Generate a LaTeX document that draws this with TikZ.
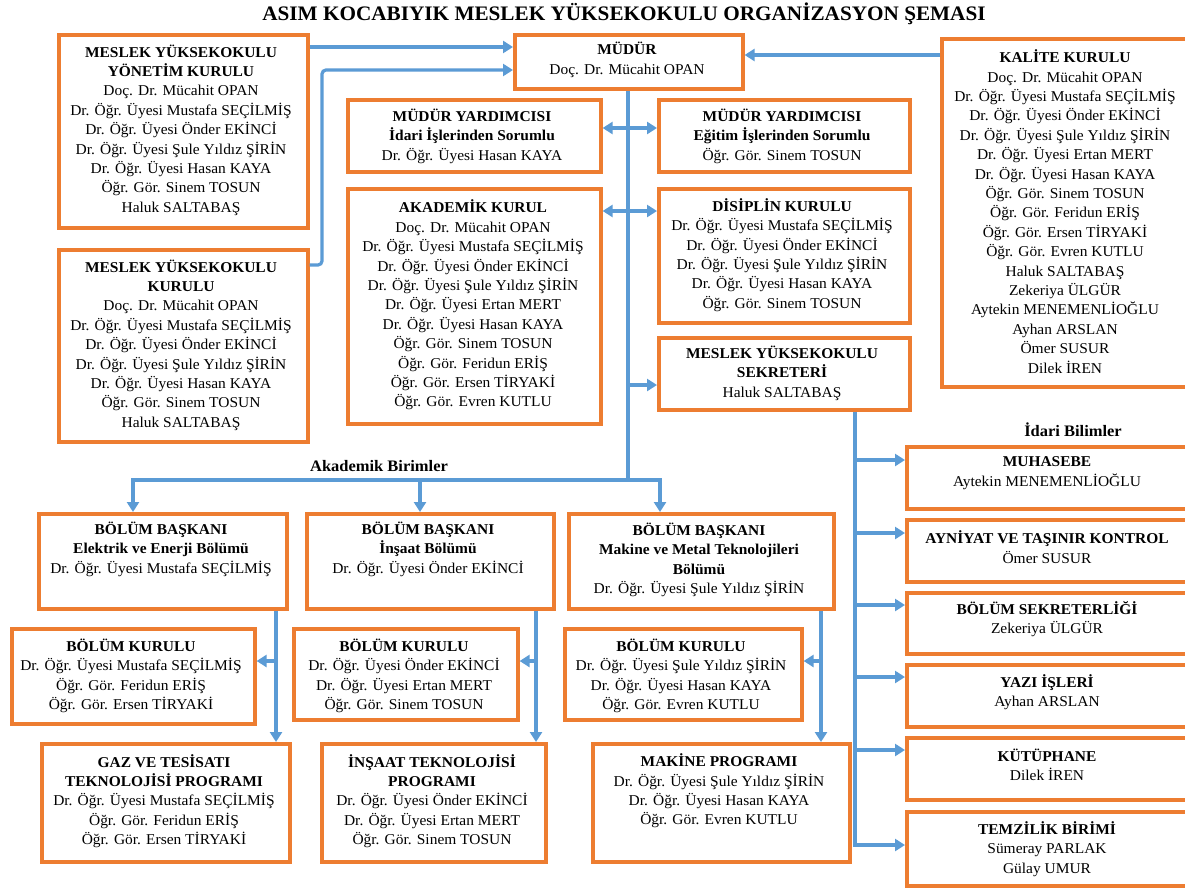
\documentclass[tikz,border=0pt]{standalone}
\usepackage{fontspec}
\setmainfont[FakeStretch=1.03]{Liberation Serif}
\usetikzlibrary{arrows.meta}
\definecolor{borange}{HTML}{ED7D31}
\definecolor{lblue}{HTML}{5B9BD5}
\tikzset{
  box/.style={draw=borange, line width=3.6pt, fill=white, inner sep=0pt, rectangle},
  txt/.style={align=center, inner sep=0pt, font=\fontsize{15}{19.4}\selectfont},
  con/.style={draw=lblue, line width=3.2pt},
  arr/.style={con, -{Triangle[length=10pt,width=12pt]}},
  darr/.style={con, {Triangle[length=10pt,width=12pt]}-{Triangle[length=10pt,width=12pt]}},
  lbl/.style={inner sep=0pt, font=\fontsize{16}{18}\selectfont\bfseries}
}
\newcommand\ob[8]{%
  \node[box, anchor=north west, minimum width={#4-#2}, minimum height={#5-#3}] (#1) at (#2,#3) {};
  \node[txt] (#1t) at (#6,#7) {#8};}
\begin{document}
\begin{tikzpicture}[x=1pt,y=-1pt]
\useasboundingbox (0,0) rectangle (1185,888);
\clip (0,0) rectangle (1185,888);
\fill[white] (0,0) rectangle (1185,888);

\node[inner sep=0pt, font=\fontsize{20.6}{23}\selectfont\bfseries] (title) at (624,14) {ASIM KOCABIYIK MESLEK YÜKSEKOKULU ORGANİZASYON ŞEMASI};

\ob{yon}{57}{33}{306}{226}{181}{130}{\textbf{MESLEK YÜKSEKOKULU}\\\textbf{YÖNETİM KURULU}\\Doç. Dr. Mücahit OPAN\\Dr. Öğr. Üyesi Mustafa SEÇİLMİŞ\\Dr. Öğr. Üyesi Önder EKİNCİ\\Dr. Öğr. Üyesi Şule Yıldız ŞİRİN\\Dr. Öğr. Üyesi Hasan KAYA\\Öğr. Gör. Sinem TOSUN\\Haluk SALTABAŞ}
\ob{mudur}{513}{33}{741}{87}{627}{60}{\textbf{MÜDÜR}\\Doç. Dr. Mücahit OPAN}
\ob{kalite}{940}{37}{1192}{385}{1065}{211.5}{\textbf{KALİTE KURULU}\\Doç. Dr. Mücahit OPAN\\Dr. Öğr. Üyesi Mustafa SEÇİLMİŞ\\Dr. Öğr. Üyesi Önder EKİNCİ\\Dr. Öğr. Üyesi Şule Yıldız ŞİRİN\\Dr. Öğr. Üyesi Ertan MERT\\Dr. Öğr. Üyesi Hasan KAYA\\Öğr. Gör. Sinem TOSUN\\Öğr. Gör. Feridun ERİŞ\\Öğr. Gör. Ersen TİRYAKİ\\Öğr. Gör. Evren KUTLU\\Haluk SALTABAŞ\\Zekeriya ÜLGÜR\\Aytekin MENEMENLİOĞLU\\Ayhan ARSLAN\\Ömer SUSUR\\Dilek İREN}
\ob{myok}{57}{248}{306}{440}{181}{345}{\textbf{MESLEK YÜKSEKOKULU}\\\textbf{KURULU}\\Doç. Dr. Mücahit OPAN\\Dr. Öğr. Üyesi Mustafa SEÇİLMİŞ\\Dr. Öğr. Üyesi Önder EKİNCİ\\Dr. Öğr. Üyesi Şule Yıldız ŞİRİN\\Dr. Öğr. Üyesi Hasan KAYA\\Öğr. Gör. Sinem TOSUN\\Haluk SALTABAŞ}
\ob{yrda}{346}{98}{599}{170}{472}{136}{\textbf{MÜDÜR YARDIMCISI}\\\textbf{İdari İşlerinden Sorumlu}\\Dr. Öğr. Üyesi Hasan KAYA}
\ob{yrdb}{657}{98}{908}{170}{782}{136}{\textbf{MÜDÜR YARDIMCISI}\\\textbf{Eğitim İşlerinden Sorumlu}\\Öğr. Gör. Sinem TOSUN}
\ob{akad}{346}{187}{599}{422}{473}{305}{\textbf{AKADEMİK KURUL}\\Doç. Dr. Mücahit OPAN\\Dr. Öğr. Üyesi Mustafa SEÇİLMİŞ\\Dr. Öğr. Üyesi Önder EKİNCİ\\Dr. Öğr. Üyesi Şule Yıldız ŞİRİN\\Dr. Öğr. Üyesi Ertan MERT\\Dr. Öğr. Üyesi Hasan KAYA\\Öğr. Gör. Sinem TOSUN\\Öğr. Gör. Feridun ERİŞ\\Öğr. Gör. Ersen TİRYAKİ\\Öğr. Gör. Evren KUTLU}
\ob{disip}{657}{187}{908}{321}{782}{255}{\textbf{DİSİPLİN KURULU}\\Dr. Öğr. Üyesi Mustafa SEÇİLMİŞ\\Dr. Öğr. Üyesi Önder EKİNCİ\\Dr. Öğr. Üyesi Şule Yıldız ŞİRİN\\Dr. Öğr. Üyesi Hasan KAYA\\Öğr. Gör. Sinem TOSUN}
\ob{sekr}{657}{336}{908}{408}{782}{373}{\textbf{MESLEK YÜKSEKOKULU}\\\textbf{SEKRETERİ}\\Haluk SALTABAŞ}

\ob{ba}{37}{512}{285}{607}{161}{549}{\textbf{BÖLÜM BAŞKANI}\\\textbf{Elektrik ve Enerji Bölümü}\\Dr. Öğr. Üyesi Mustafa SEÇİLMİŞ}
\ob{bb}{305}{512}{552}{607}{428}{549}{\textbf{BÖLÜM BAŞKANI}\\\textbf{İnşaat Bölümü}\\Dr. Öğr. Üyesi Önder EKİNCİ}
\ob{bc}{567}{512}{832}{607}{699}{560}{\textbf{BÖLÜM BAŞKANI}\\\textbf{Makine ve Metal Teknolojileri}\\\textbf{Bölümü}\\Dr. Öğr. Üyesi Şule Yıldız ŞİRİN}
\ob{ka}{10}{627}{253}{722}{131}{676}{\textbf{BÖLÜM KURULU}\\Dr. Öğr. Üyesi Mustafa SEÇİLMİŞ\\Öğr. Gör. Feridun ERİŞ\\Öğr. Gör. Ersen TİRYAKİ}
\ob{kb}{292}{627}{516}{718}{404}{676}{\textbf{BÖLÜM KURULU}\\Dr. Öğr. Üyesi Önder EKİNCİ\\Dr. Öğr. Üyesi Ertan MERT\\Öğr. Gör. Sinem TOSUN}
\ob{kc}{563}{627}{800}{718}{681}{676}{\textbf{BÖLÜM KURULU}\\Dr. Öğr. Üyesi Şule Yıldız ŞİRİN\\Dr. Öğr. Üyesi Hasan KAYA\\Öğr. Gör. Evren KUTLU}
\ob{pa}{40}{742}{288}{860}{164}{801}{\textbf{GAZ VE TESİSATI}\\\textbf{TEKNOLOJİSİ PROGRAMI}\\Dr. Öğr. Üyesi Mustafa SEÇİLMİŞ\\Öğr. Gör. Feridun ERİŞ\\Öğr. Gör. Ersen TİRYAKİ}
\ob{pb}{320}{742}{544}{860}{432}{801}{\textbf{İNŞAAT TEKNOLOJİSİ}\\\textbf{PROGRAMI}\\Dr. Öğr. Üyesi Önder EKİNCİ\\Dr. Öğr. Üyesi Ertan MERT\\Öğr. Gör. Sinem TOSUN}
\ob{pc}{591}{742}{848}{860}{719}{791}{\textbf{MAKİNE PROGRAMI}\\Dr. Öğr. Üyesi Şule Yıldız ŞİRİN\\Dr. Öğr. Üyesi Hasan KAYA\\Öğr. Gör. Evren KUTLU}

\ob{muh}{905}{445}{1192}{507}{1047}{473}{\textbf{MUHASEBE}\\Aytekin MENEMENLİOĞLU}
\ob{ayn}{905}{518}{1192}{580}{1047}{547}{\textbf{AYNİYAT VE TAŞINIR KONTROL}\\Ömer SUSUR}
\ob{bsek}{905}{591}{1192}{652}{1047}{619}{\textbf{BÖLÜM SEKRETERLİĞİ}\\Zekeriya ÜLGÜR}
\ob{yazi}{905}{663}{1192}{725}{1047}{692}{\textbf{YAZI İŞLERİ}\\Ayhan ARSLAN}
\ob{kut}{905}{736}{1192}{798}{1047}{765}{\textbf{KÜTÜPHANE}\\Dilek İREN}
\ob{tem}{905}{810}{1192}{884}{1047}{849}{\textbf{TEMZİLİK BİRİMİ}\\Sümeray PARLAK\\Gülay UMUR}

\node[lbl] (akl) at (379,466) {Akademik Birimler};
\node[lbl] (idl) at (1073,430) {İdari Bilimler};

% top connectors
\draw[arr] (yon.east |- 0,47) -- (mudur.west |- 0,47);
\draw[arr, rounded corners=4pt] (myok.east |- 0,265) -- (322,265) |- (mudur.west |- 0,70);
\draw[arr] (kalite.west |- 0,55) -- (mudur.east |- 0,55);
\coordinate (hub) at (628,480);
\draw[con] (mudur.south -| hub) -- (hub);
\draw[darr] (yrda.east |- 0,128) -- (yrdb.west |- 0,128);
\draw[darr] (akad.east |- 0,211) -- (disip.west |- 0,211);
\draw[arr] (628,385) -- (sekr.west |- 0,385);
% academic
\draw[arr] (hub) -| (ba.north -| 133,0);
\draw[arr] (hub) -| (bc.north -| 660,0);
\draw[arr] (420,480) -- (bb.north -| 420,0);
\draw[arr] (ba.south -| 276,0) -- (pa.north -| 276,0);
\draw[arr] (276,661) -- (ka.east |- 0,661);
\draw[arr] (bb.south -| 536,0) -- (pb.north -| 536,0);
\draw[arr] (536,661) -- (kb.east |- 0,661);
\draw[arr] (bc.south -| 821,0) -- (pc.north -| 821,0);
\draw[arr] (821,661) -- (kc.east |- 0,661);
% administrative
\draw[arr] (sekr.south -| 855,0) |- (tem.west |- 0,845);
\draw[arr] (855,460) -- (muh.west |- 0,460);
\draw[arr] (855,533) -- (ayn.west |- 0,533);
\draw[arr] (855,605) -- (bsek.west |- 0,605);
\draw[arr] (855,677) -- (yazi.west |- 0,677);
\draw[arr] (855,750) -- (kut.west |- 0,750);
\end{tikzpicture}
\end{document}
